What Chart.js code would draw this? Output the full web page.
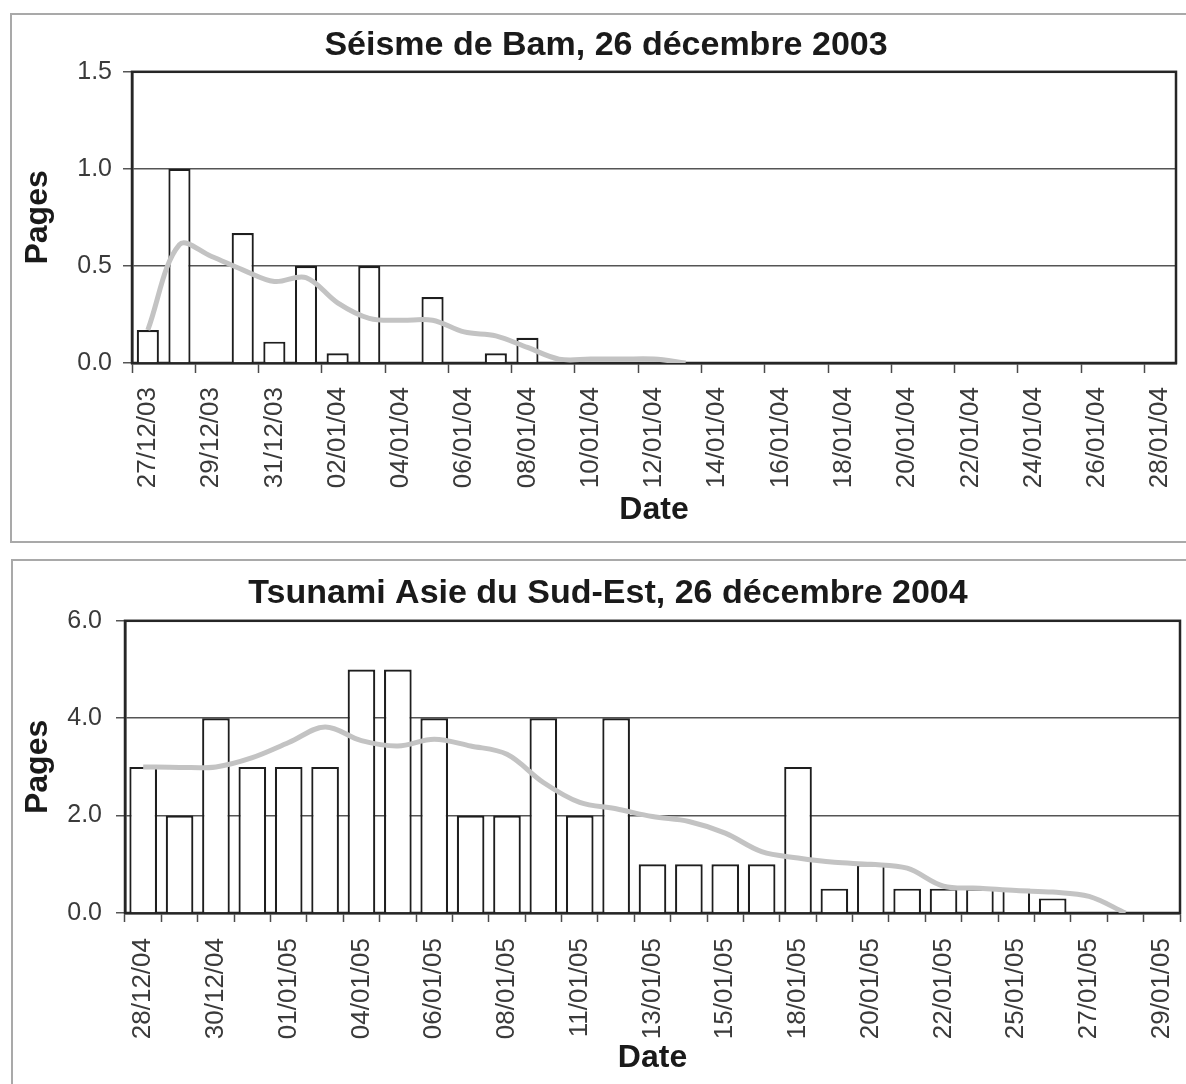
<!DOCTYPE html>
<html>
<head>
<meta charset="utf-8">
<style>
  body { margin: 0; background: #fff; }
  #page { position: relative; width: 1186px; height: 1084px; overflow: hidden; background: #fff; }
  .box { position: absolute; border: 2px solid #a9a9a9; }
  canvas { position: absolute; left: 0; }
</style>
</head>
<body>
<div id="page">
  <div class="box" style="left:10px; top:13px; width:1200px; height:526px;"></div>
  <div class="box" style="left:11px; top:559px; width:1200px; height:600px;"></div>
  <canvas id="bam" width="1186" height="545" style="top:0"></canvas>
  <canvas id="tsunami" width="1186" height="539" style="top:545px"></canvas>
</div>

<script src="https://cdn.jsdelivr.net/npm/chart.js"></script>

<script>
  // Séisme de Bam : one category per day
  const bamDates = ['27/12/03','28/12/03','29/12/03','30/12/03','31/12/03',
    '01/01/04','02/01/04','03/01/04','04/01/04','05/01/04','06/01/04','07/01/04',
    '08/01/04','09/01/04','10/01/04','11/01/04','12/01/04','13/01/04','14/01/04',
    '15/01/04','16/01/04','17/01/04','18/01/04','19/01/04','20/01/04','21/01/04',
    '22/01/04','23/01/04','24/01/04','25/01/04','26/01/04','27/01/04','28/01/04']
  const bamPages = [0.17, 1.0, 0, 0.67, 0.11, 0.5, 0.05, 0.5, 0, 0.34, 0, 0.05,
    0.13, 0, 0, 0, 0, 0, 0, 0, 0, 0, 0, 0, 0, 0, 0, 0, 0, 0, 0, 0, 0]
  const bamTrend = [0.17, 0.61, 0.55, 0.48, 0.42, 0.44, 0.31, 0.23, 0.22, 0.22,
    0.16, 0.14, 0.08, 0.02, 0.02, 0.02, 0.02, 0, null, null, null, null, null,
    null, null, null, null, null, null, null, null, null, null]
  const bamTicks = [0, 1.5, 0.5]

  // Tsunami : no Sundays in the series
  const tsDates = ['28/12/04','29/12/04','30/12/04','31/12/04','01/01/05',
    '03/01/05','04/01/05','05/01/05','06/01/05','07/01/05','08/01/05',
    '10/01/05','11/01/05','12/01/05','13/01/05','14/01/05','15/01/05',
    '17/01/05','18/01/05','19/01/05','20/01/05','21/01/05','22/01/05',
    '24/01/05','25/01/05','26/01/05','27/01/05','28/01/05','29/01/05']
  const tsPages = [3, 2, 4, 3, 3, 3, 5, 5, 4, 2, 2, 4, 2, 4, 1, 1, 1, 1, 3,
    0.5, 1, 0.5, 0.5, 0.5, 0.5, 0.3, 0, 0, 0]
  const tsTrend = [3.0, 2.99, 3.0, 3.19, 3.5, 3.82, 3.54, 3.43, 3.57, 3.43,
    3.26, 2.68, 2.27, 2.14, 1.98, 1.88, 1.64, 1.26, 1.13, 1.04, 1.0, 0.92,
    0.55, 0.51, 0.46, 0.43, 0.34, 0, null]
  const tsTicks = [0, 6, 2]

  const FONT = 'Liberation Sans, Arial, Helvetica, sans-serif'

  // dark frame round the plot area, like the Excel original
  const plotFrame = {
    id: 'plotFrame',
    beforeDatasetsDraw(chart) {
      const {ctx, chartArea: a} = chart
      ctx.save()
      ctx.strokeStyle = '#262626'
      ctx.lineWidth = 2.5
      ctx.strokeRect(a.left, a.top, a.right - a.left, a.bottom - a.top)
      ctx.restore()
    }
  }

  function makeChart(id, cfg) {
    return new Chart(document.getElementById(id), {
      type: 'bar',
      data: {
        labels: cfg.labels,
        datasets: [{
          type: 'line',
          data: cfg.trend,
          borderColor: '#c3c3c3',
          borderWidth: 5,
          pointRadius: 0,
          tension: 0.35,
          order: 0
        }, {
          type: 'bar',
          data: cfg.values,
          backgroundColor: '#ffffff',
          borderColor: '#1e1e1e',
          borderWidth: 2.2,
          barPercentage: cfg.barPct,
          categoryPercentage: 1,
          order: 1
        }]
      },
      options: {
        responsive: false,
        animation: false,
        layout: { padding: { left: 36, right: cfg.padRight, top: 0, bottom: 0 } },
        plugins: {
          legend: { display: false },
          tooltip: { enabled: false },
          title: {
            display: true,
            text: cfg.title,
            color: '#1a1a1a',
            font: { family: FONT, size: 34, weight: 'bold' },
            padding: cfg.titlePad
          }
        },
        scales: {
          x: {
            afterFit: (s) => {
              s.height = cfg.xHeight
              s.paddingLeft = 0
              s.paddingRight = 0
            },
            border: { display: true, color: '#262626', width: 2.5 },
            grid: {
              drawOnChartArea: false,
              drawTicks: true,
              tickLength: cfg.xTickLen,
              tickWidth: 1.5,
              tickColor: cfg.tickColor
            },
            ticks: {
              autoSkip: false,
              minRotation: 90,
              maxRotation: 90,
              padding: cfg.xTickPad,
              color: '#3a3a3a',
              font: { family: FONT, size: 26 },
              callback: function (v, i) { return i % 2 === 0 ? this.getLabelForValue(v) : '' }
            },
            title: {
              display: true,
              text: 'Date',
              color: '#1a1a1a',
              font: { family: FONT, size: 32, weight: 'bold' },
              padding: { top: 0, bottom: cfg.dateBottom }
            }
          },
          y: {
            min: cfg.yTicks[0],
            max: cfg.yTicks[1],
            afterFit: (s) => { s.width = cfg.yWidth },
            border: { display: true, color: '#262626', width: 2.5 },
            grid: {
              color: '#555555',
              lineWidth: 1.5,
              tickLength: 9,
              tickColor: '#555555'
            },
            ticks: {
              stepSize: cfg.yTicks[2],
              padding: cfg.yTickPad,
              color: '#3a3a3a',
              font: { family: FONT, size: 25 },
              callback: (v) => Number(v).toFixed(1)
            },
            title: {
              display: true,
              text: 'Pages',
              color: '#1a1a1a',
              font: { family: FONT, size: 32, weight: 'bold' },
              padding: { top: -17, bottom: 0 }
            }
          }
        }
      },
      plugins: [plotFrame]
    })
  }

  makeChart('bam', {
    labels: bamDates, values: bamPages, trend: bamTrend, yTicks: bamTicks,
    title: 'Séisme de Bam, 26 décembre 2003',
    titlePad: { top: 25, bottom: 6 },
    barPct: 0.7, padRight: 10,
    xHeight: 182, xTickLen: 10, xTickPad: 14, dateBottom: 16,
    yWidth: 96, yTickPad: 11,
    tickColor: (ctx) => ctx.index % 2 === 0 ? '#4a4a4a' : 'rgba(0,0,0,0)'
  })

  makeChart('tsunami', {
    labels: tsDates, values: tsPages, trend: tsTrend, yTicks: tsTicks,
    title: 'Tsunami Asie du Sud-Est, 26 décembre 2004',
    titlePad: { top: 28, bottom: 7 },
    barPct: 0.76, padRight: 6,
    xHeight: 171, xTickLen: 9, xTickPad: 16, dateBottom: 7,
    yWidth: 89, yTickPad: 14,
    tickColor: '#4a4a4a'
  })
</script>
</body>
</html>
